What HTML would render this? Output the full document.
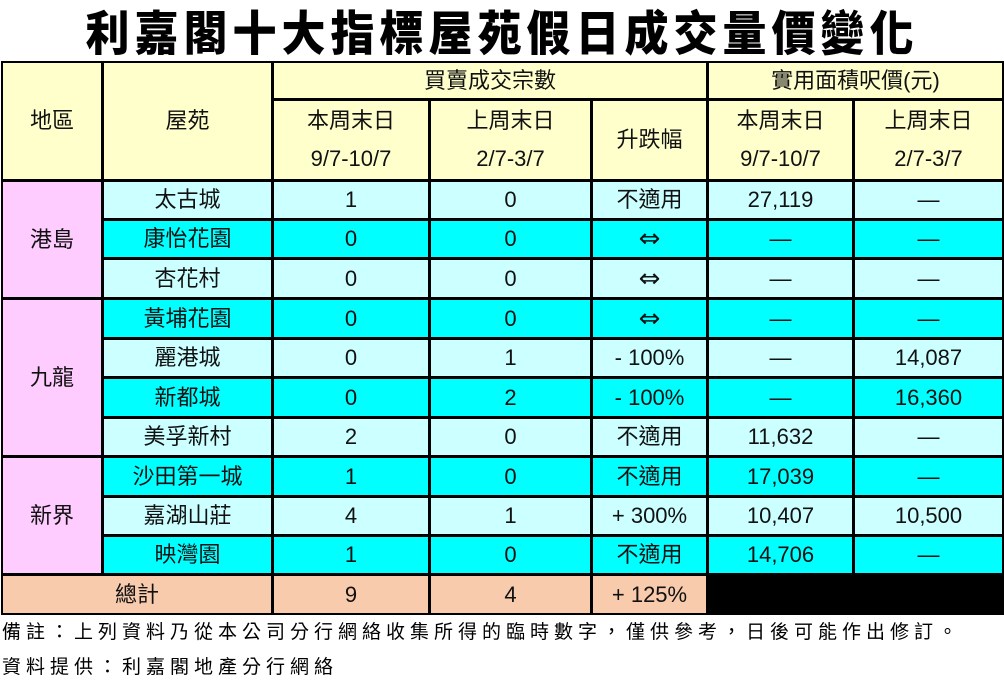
<!DOCTYPE html>
<html><head><meta charset="utf-8"><style>
body{margin:0;width:1004px;height:681px;background:#fff;position:relative;overflow:hidden;font-family:"Liberation Sans","Noto Sans CJK TC",sans-serif;}
.t{position:absolute;left:0;width:1004px;top:2px;text-align:center;font-family:"Noto Sans CJK TC",sans-serif;font-weight:900;font-size:44px;line-height:56px;letter-spacing:5px;transform:scaleY(1.08);}
.c{position:absolute;box-sizing:border-box;border:1px solid #000;display:flex;align-items:center;justify-content:center;font-size:22px;color:#111;text-align:center;line-height:38px;}
.f{position:absolute;left:2px;font-size:19px;letter-spacing:5px;font-family:"Liberation Sans","Noto Sans CJK TC",sans-serif;}
.ar{font-size:26px;font-family:"DejaVu Sans",sans-serif;}
</style></head><body>
<div class="t">利嘉閣十大指標屋苑假日成交量價變化</div>
<div id="tb"></div>
<div class="f" style="top:617px">備註：上列資料乃從本公司分行網絡收集所得的臨時數字，僅供參考，日後可能作出修訂。</div>
<div class="f" style="top:652px">資料提供：利嘉閣地產分行網絡</div>
<script>
var X=[1,102,272,429,591,707,853,1003];
var Y=[61,99,180,219,258,298,338,377,417,456,496,535,574,614];
var H='#ffffcc',P='#ffccff',L='#ccffff',C='#00ffff',O='#f8cbad';
var out='';
function cell(c0,c1,r0,r1,bg,txt){out+='<div class="c" style="left:'+X[c0]+'px;width:'+(X[c1]-X[c0]+1)+'px;top:'+Y[r0]+'px;height:'+(Y[r1]-Y[r0]+1)+'px;background:'+bg+';border-width:2px">'+txt+'</div>';}
cell(0,1,0,2,H,'地區');cell(1,2,0,2,H,'屋苑');
cell(2,5,0,1,H,'買賣成交宗數');cell(5,7,0,1,H,'實用面積呎價(元)');
cell(2,3,1,2,H,'本周末日<br>9/7-10/7');cell(3,4,1,2,H,'上周末日<br>2/7-3/7');cell(4,5,1,2,H,'升跌幅');
cell(5,6,1,2,H,'本周末日<br>9/7-10/7');cell(6,7,1,2,H,'上周末日<br>2/7-3/7');
cell(0,1,2,5,P,'港島');cell(0,1,5,9,P,'九龍');cell(0,1,9,12,P,'新界');
var D='—',A='<span class="ar">⇔</span>';
var rows=[['太古城','1','0','不適用','27,119',D],['康怡花園','0','0',A,D,D],['杏花村','0','0',A,D,D],['黃埔花園','0','0',A,D,D],['麗港城','0','1','- 100%',D,'14,087'],['新都城','0','2','- 100%',D,'16,360'],['美孚新村','2','0','不適用','11,632',D],['沙田第一城','1','0','不適用','17,039',D],['嘉湖山莊','4','1','+ 300%','10,407','10,500'],['映灣園','1','0','不適用','14,706',D]];
rows.forEach(function(r,i){var bg=i%2?C:L;for(var j=0;j<6;j++)cell(j+1,j+2,i+2,i+3,bg,r[j]);});
cell(0,2,12,13,O,'總計');cell(2,3,12,13,O,'9');cell(3,4,12,13,O,'4');cell(4,5,12,13,O,'+ 125%');cell(5,7,12,13,'#000','');
document.getElementById('tb').innerHTML=out;
</script>
</body></html>
